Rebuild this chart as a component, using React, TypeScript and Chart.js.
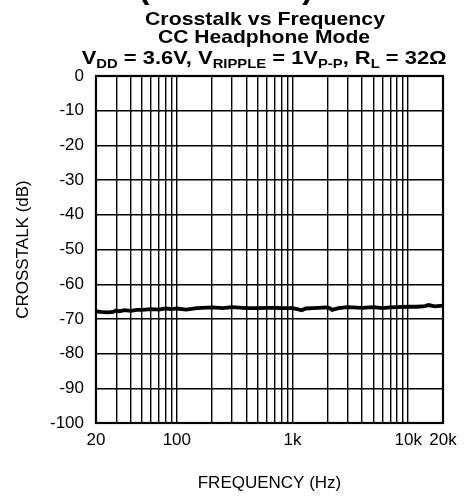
import React, { useEffect, useRef } from "react";
import { Chart, registerables } from "chart.js";

Chart.register(...registerables);

const frequencies = [
  20, 22, 25, 28, 30, 32, 35, 40, 45, 50, 60, 70, 80, 90, 100, 120, 150, 200,
  250, 300, 400, 500, 600, 700, 800, 1000, 1100, 1200, 1300, 1500, 2000, 2100,
  2200, 2500, 3000, 4000, 5000, 6000, 7000, 8000, 10000, 12000, 14000, 15000,
  17000, 20000,
];
const crosstalk = [
  -67.8, -68.0, -68.1, -68.0, -67.6, -67.8, -67.5, -67.7, -67.4, -67.4, -67.2,
  -67.3, -67.0, -67.2, -67.0, -67.3, -66.9, -66.7, -66.9, -66.6, -66.9, -66.9,
  -66.8, -66.8, -66.9, -66.9, -67.2, -67.5, -67.0, -66.9, -66.7, -66.9, -67.4,
  -66.9, -66.6, -66.8, -66.6, -66.9, -66.7, -66.6, -66.5, -66.5, -66.3, -66.0,
  -66.4, -66.2,
];

const xGridValues = [
  20, 30, 40, 50, 60, 70, 80, 90, 100, 200, 300, 400, 500, 600, 700, 800, 900,
  1000, 2000, 3000, 4000, 5000, 6000, 7000, 8000, 9000, 10000, 20000,
];
const xLabelValues = [20, 100, 1000, 10000, 20000];
const xLabelTexts = ["20", "100", "1k", "10k", "20k"];

const titleLine1 = "Crosstalk vs Frequency";
const titleLine2 = "CC Headphone Mode";
const titleLine3 = [
  { t: "V" },
  { t: "DD", sub: true },
  { t: " = 3.6V, V" },
  { t: "RIPPLE", sub: true },
  { t: " = 1V" },
  { t: "P-P", sub: true },
  { t: ", R" },
  { t: "L", sub: true },
  { t: " = 32Ω" },
];
const headingText = "Characteristics (continued)";

const FONT = '"Liberation Sans", Arial, Helvetica, sans-serif';

type Run = { t: string; sub?: boolean };

function drawRuns(
  ctx: CanvasRenderingContext2D,
  runs: Run[],
  cx: number,
  baseline: number,
  targetWidth: number,
  mainSize: number,
  subSize: number,
  subDrop: number
) {
  const mainFont = `bold ${mainSize}px ${FONT}`;
  const subFont = `bold ${subSize}px ${FONT}`;
  let total = 0;
  const widths: number[] = [];
  for (const r of runs) {
    ctx.font = r.sub ? subFont : mainFont;
    const w = ctx.measureText(r.t).width;
    widths.push(w);
    total += w;
  }
  const sx = targetWidth / total;
  ctx.save();
  ctx.translate(cx - targetWidth / 2, baseline);
  ctx.scale(sx, 1);
  ctx.textAlign = "left";
  ctx.textBaseline = "alphabetic";
  ctx.fillStyle = "#000";
  let x = 0;
  runs.forEach((r, i) => {
    ctx.font = r.sub ? subFont : mainFont;
    ctx.fillText(r.t, x, r.sub ? subDrop : 0);
    x += widths[i];
  });
  ctx.restore();
}

const titlePlugin = {
  id: "customTitles",
  afterDraw(chart: any) {
    const ctx = chart.ctx as CanvasRenderingContext2D;
    // cut-off page heading (only its lowest pixels are visible)
    ctx.save();
    ctx.font = `bold 32px ${FONT}`;
    ctx.textAlign = "right";
    ctx.textBaseline = "alphabetic";
    ctx.fillStyle = "#000";
    ctx.fillText(headingText, 313, -2.2);
    ctx.restore();

    drawRuns(ctx, [{ t: titleLine1 }], 265, 24.5, 240, 18.5, 12.5, 4);
    drawRuns(ctx, [{ t: titleLine2 }], 264, 42.5, 212, 18.5, 12.5, 4);
    drawRuns(ctx, titleLine3, 264.2, 64.3, 365, 18.5, 12.5, 4);
  },
};

export default function App() {
  const canvasRef = useRef<HTMLCanvasElement | null>(null);

  useEffect(() => {
    const canvas = canvasRef.current;
    if (!canvas) return;
    const chart = new Chart(canvas, {
      type: "line",
      data: {
        datasets: [
          {
            data: frequencies.map((f, i) => ({ x: f, y: crosstalk[i] })),
            borderColor: "#000",
            borderWidth: 3.8,
            pointRadius: 0,
            tension: 0,
            fill: false,
          },
        ],
      },
      options: {
        responsive: false,
        animation: false,
        devicePixelRatio: 1,
        layout: { padding: { top: 76, left: 0, right: 25, bottom: 0 } },
        plugins: {
          legend: { display: false },
          tooltip: { enabled: false },
          title: { display: false },
        },
        scales: {
          x: {
            type: "logarithmic",
            min: 20,
            max: 20000,
            afterBuildTicks: (scale: any) => {
              scale.ticks = xGridValues.map((v) => ({ value: v }));
            },
            afterFit: (scale: any) => {
              scale.height = 75;
            },
            ticks: {
              autoSkip: false,
              maxRotation: 0,
              minRotation: 0,
              padding: 7,
              color: "#000",
              font: { family: FONT, size: 17 },
              callback: (value: any) => {
                const idx = xLabelValues.indexOf(Number(value));
                return idx >= 0 ? xLabelTexts[idx] : "";
              },
            },
            grid: {
              color: "#000",
              lineWidth: 1.4,
              drawTicks: false,
            },
            border: { display: true, color: "#000", width: 2 },
            title: {
              display: true,
              text: "FREQUENCY (Hz)",
              color: "#000",
              font: { family: FONT, size: 17 },
              padding: { top: 0, bottom: 4 },
            },
          },
          y: {
            type: "linear",
            min: -100,
            max: 0,
            afterFit: (scale: any) => {
              scale.width = 96;
            },
            ticks: {
              stepSize: 10,
              padding: 12,
              color: "#000",
              font: { family: FONT, size: 17 },
            },
            grid: {
              color: "#000",
              lineWidth: 1.4,
              drawTicks: false,
            },
            border: { display: true, color: "#000", width: 2 },
            title: {
              display: true,
              text: "CROSSTALK (dB)",
              color: "#000",
              font: { family: FONT, size: 17 },
              padding: { top: 13, bottom: 0 },
            },
          },
        },
      },
      plugins: [
        titlePlugin,
        {
          id: "plotBorder",
          afterDatasetsDraw(chart: any) {
            const { ctx, chartArea } = chart;
            ctx.save();
            ctx.strokeStyle = "#000";
            ctx.lineWidth = 2.2;
            ctx.strokeRect(
              chartArea.left,
              chartArea.top,
              chartArea.right - chartArea.left,
              chartArea.bottom - chartArea.top
            );
            ctx.restore();
          },
        },
      ],
    } as any);
    return () => chart.destroy();
  }, []);

  return (
    <div
      style={{
        position: "absolute",
        left: 0,
        top: 0,
        width: 468,
        height: 498,
        background: "#fff",
      }}
    >
      <canvas
        ref={canvasRef}
        width={468}
        height={498}
        style={{ display: "block", width: 468, height: 498 }}
      />
    </div>
  );
}
